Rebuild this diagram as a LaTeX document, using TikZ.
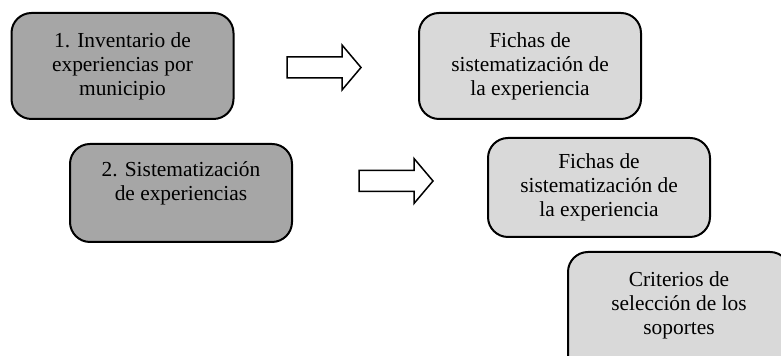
\documentclass[tikz,border=0pt]{standalone}
\usepackage{fontspec}
\setmainfont{Liberation Serif}
\definecolor{grisosc}{HTML}{A6A6A6}
\definecolor{grisclaro}{HTML}{D9D9D9}
\begin{document}
\begin{tikzpicture}[x=0.5pt,y=-0.5pt]
	\tikzset{
		every node/.style={font=\fontsize{10.7}{12}\selectfont,align=center},
		% Caja oscura
		oscura/.style={draw,line width=1pt,rounded corners=10pt,fill=grisosc,minimum width=111pt,inner sep=0pt,execute at begin node=\rule{0pt}{9.8pt}},
		% Caja clara
		clara/.style={oscura,fill=grisclaro},
		% Flecha
		flecha/.pic={\draw[line width=0.75pt,fill=white] (0,-10.5)--(55,-10.5)--(55,-22.5)--(74,0)--(55,22.5)--(55,10.5)--(0,10.5)--cycle;},
	}
	\useasboundingbox (0,0) rectangle (781,356);
	%
	\node[oscura,minimum height=53pt] (inventario) at (122.5,66) {1. Inventario de\\experiencias por\\municipio};
	\node[clara,minimum height=53pt] (fichaA) at (530,66) {Fichas de\\sistematización de\\la experiencia};
	\node[oscura,minimum height=49pt] (sistema) at (181,193) {2. Sistematización\\de experiencias\\\mbox{}};
	\node[clara,minimum height=49.5pt] (fichaB) at (599,187.5) {Fichas de\\sistematización de\\la experiencia};
	\node[clara,minimum height=63pt] (criterios) at (679,315) {Criterios de\\selección de los\\soportes\\\mbox{}};
	%
	\draw
	(287,67.5)pic[local bounding box =flechaA]{flecha}
	(359,181)pic[local bounding box =flechaB]{flecha}
	;
\end{tikzpicture}
\end{document}
